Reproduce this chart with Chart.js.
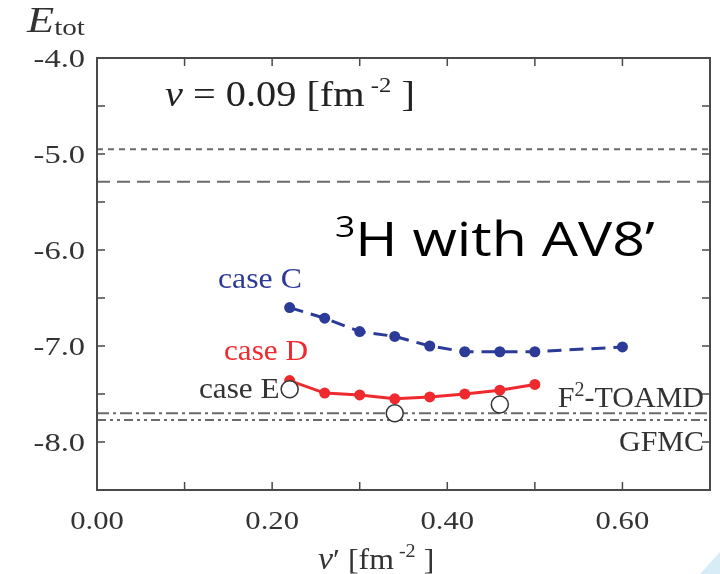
<!DOCTYPE html>
<html>
<head>
<meta charset="utf-8">
<script src="https://cdn.jsdelivr.net/npm/chart.js@4.4.1/dist/chart.umd.min.js"></script>
<style>
  html, body { margin: 0; padding: 0; background: #fff; overflow: hidden; }
  #chart { display: block; }
</style>
</head>
<body>
<canvas id="chart" width="720" height="574"></canvas>
<script>
// DATA
const caseX = [0.22, 0.26, 0.30, 0.34, 0.38, 0.42, 0.46, 0.50];
const caseCX = [0.22, 0.26, 0.30, 0.34, 0.38, 0.42, 0.46, 0.50, 0.60];
const caseC = [-6.60, -6.71, -6.85, -6.90, -7.00, -7.06, -7.06, -7.06, -7.01];
const caseD = [-7.36, -7.49, -7.51, -7.55, -7.53, -7.50, -7.46, -7.40];
const caseEX = [0.22, 0.34, 0.46];
const caseE = [-7.45, -7.70, -7.61];

// horizontal reference energies (dotted, dashed, F2-TOAMD, GFMC)
const refValues = [-4.95, -5.29, -7.70, -7.77];

const xLabels = [0.0, 0.2, 0.4, 0.6];
const xTicks = [0.1, 0.2, 0.3, 0.4, 0.5, 0.6];
const yLabels = [-8.0, -7.0, -6.0, -5.0, -4.0];
const yTicks = [-8.0, -7.5, -7.0, -6.5, -6.0, -5.5, -5.0, -4.5];

const SERIF = '"Liberation Serif", "DejaVu Serif", serif';
const GRAY = '#6a6a6a';
const TXT = '#333';

function pts(xs, ys) {
  return xs.map((x, i) => ({ x: x, y: ys[i] }));
}

function refLine(v, dash, w) {
  return {
    data: [{ x: 0, y: v }, { x: 0.7, y: v }],
    showLine: true,
    borderColor: GRAY,
    borderWidth: w,
    borderDash: dash,
    pointRadius: 0,
    order: 5
  };
}

// draw a row of text pieces [text, font, dy], stretched sideways by sx
function runs(ctx, x, y, parts, color, align, sx) {
  sx = sx || 1;
  ctx.save();
  ctx.fillStyle = color;
  ctx.textBaseline = 'alphabetic';
  ctx.textAlign = 'left';
  let total = 0;
  parts.forEach(p => { ctx.font = p[1]; total += ctx.measureText(p[0]).width; });
  let x0 = x;
  if (align === 'right') x0 = x - total * sx;
  if (align === 'center') x0 = x - total * sx / 2;
  ctx.translate(x0, y);
  ctx.scale(sx, 1);
  let cx = 0;
  parts.forEach(p => {
    ctx.font = p[1];
    ctx.fillText(p[0], cx, p[2] || 0);
    cx += ctx.measureText(p[0]).width;
  });
  ctx.restore();
}

const framePlugin = {
  id: 'frame',
  afterDatasetsDraw(chart) {
    const { ctx, chartArea: a, scales } = chart;
    const xs = scales.x, ys = scales.y;
    ctx.save();
    ctx.strokeStyle = '#4a4a4a';
    ctx.lineWidth = 2;
    ctx.strokeRect(a.left, a.top, a.right - a.left, a.bottom - a.top);
    ctx.lineWidth = 1.5;
    const len = 8;
    ctx.beginPath();
    xTicks.forEach(v => {
      const px = xs.getPixelForValue(v);
      ctx.moveTo(px, a.bottom); ctx.lineTo(px, a.bottom - len);
      ctx.moveTo(px, a.top); ctx.lineTo(px, a.top + len);
    });
    yTicks.forEach(v => {
      const py = ys.getPixelForValue(v);
      ctx.moveTo(a.left, py); ctx.lineTo(a.left + len, py);
      ctx.moveTo(a.right, py); ctx.lineTo(a.right - len, py);
    });
    ctx.stroke();
    ctx.restore();

    // tick labels, placed with the scales
    const f = '26px ' + SERIF;
    xLabels.forEach(v => {
      runs(ctx, xs.getPixelForValue(v), a.bottom + 39, [[v.toFixed(2), f]], TXT, 'center', 1.18);
    });
    yLabels.forEach(v => {
      runs(ctx, a.left - 12, ys.getPixelForValue(v) + 9, [[v.toFixed(1), f]], TXT, 'right', 1.25);
    });
  },
  afterDraw(chart) {
    const { ctx } = chart;
    ctx.save();
    // axis titles
    runs(ctx, 27, 32, [['E', 'italic 35px ' + SERIF], ['tot', '23px ' + SERIF, 3]], TXT, 'left', 1.27);
    const xt = [['ν', 'italic 32px ' + SERIF], ['′ [fm', '30px ' + SERIF], [' -2', '19px ' + SERIF, -12], [' ]', '30px ' + SERIF]];
    runs(ctx, 318, 569, xt, TXT, 'left', 1.06);
    // annotations
    runs(ctx, 165, 106, [['ν', 'italic 36px ' + SERIF], [' = 0.09 [fm', '36px ' + SERIF], [' -2', '22px ' + SERIF, -14], [' ]', '36px ' + SERIF]], '#222', 'left', 1.12);
    runs(ctx, 335, 256, [['3', '29px "Open Sans"', -19], ['H with AV8’', '47px "Open Sans"']], '#000', 'left', 1.22);
    runs(ctx, 218, 288, [['case C', '30px ' + SERIF]], '#2c3a98', 'left', 1.06);
    runs(ctx, 224, 360, [['case D', '30px ' + SERIF]], '#ee2a2e', 'left', 1.04);
    runs(ctx, 199, 398, [['case E', '30px ' + SERIF]], TXT, 'left', 1.04);
    runs(ctx, 704, 407, [['F', '30px ' + SERIF], ['2', '20px ' + SERIF, -11], ['-TOAMD', '30px ' + SERIF]], TXT, 'right', 1.0);
    runs(ctx, 704, 451, [['GFMC', '30px ' + SERIF]], TXT, 'right', 1.0);
    // slide decoration in the corner
    ctx.fillStyle = '#d6ecf7';
    ctx.beginPath();
    ctx.moveTo(700, 574); ctx.lineTo(720, 552); ctx.lineTo(720, 574);
    ctx.closePath();
    ctx.fill();
    ctx.restore();
  }
};

new Chart(document.getElementById('chart'), {
  type: 'scatter',
  data: {
    datasets: [
      {
        label: 'case E',
        data: pts(caseEX, caseE),
        pointRadius: 8.5,
        pointBackgroundColor: '#fff',
        pointBorderColor: '#333',
        pointBorderWidth: 1.5,
        order: 0
      },
      {
        label: 'case D',
        data: pts(caseX, caseD),
        showLine: true,
        borderColor: '#ee2a2e',
        borderWidth: 3,
        pointRadius: 5.5,
        pointBackgroundColor: '#ee2a2e',
        pointBorderWidth: 0,
        order: 1
      },
      {
        label: 'case C',
        data: pts(caseCX, caseC),
        showLine: true,
        borderColor: '#2c3a98',
        borderWidth: 3,
        borderDash: [14, 8],
        pointRadius: 5.5,
        pointBackgroundColor: '#2c3a98',
        pointBorderWidth: 0,
        order: 2
      },
      refLine(refValues[0], [6, 5], 2),
      refLine(refValues[1], [13, 7], 2),
      refLine(refValues[2], [12, 4, 3, 4], 2),
      refLine(refValues[3], [9, 4, 3, 4, 3, 4], 2)
    ]
  },
  options: {
    responsive: false,
    animation: false,
    devicePixelRatio: 1,
    layout: { padding: { left: 0, right: 6, top: 58, bottom: 0 } },
    plugins: { legend: { display: false }, tooltip: { enabled: false } },
    scales: {
      x: {
        type: 'linear',
        min: 0,
        max: 0.7,
        grid: { display: false, drawTicks: false },
        border: { display: false },
        ticks: { display: false },
        afterFit(s) { s.height = 84; }
      },
      y: {
        type: 'linear',
        min: -8.5,
        max: -4.0,
        grid: { display: false, drawTicks: false },
        border: { display: false },
        ticks: { display: false },
        afterFit(s) { s.width = 97; }
      }
    }
  },
  plugins: [framePlugin]
});
</script>
</body>
</html>
